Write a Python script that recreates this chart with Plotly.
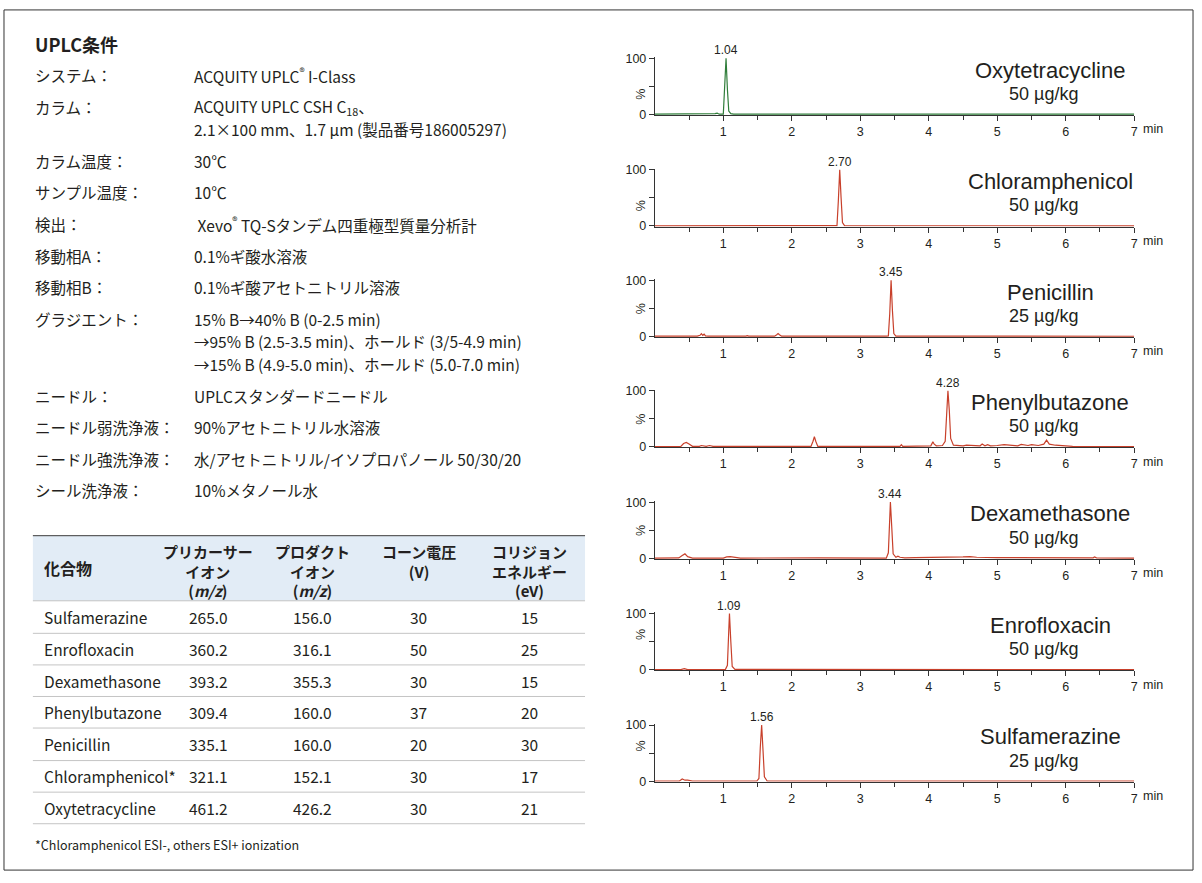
import plotly.graph_objects as go

W, H = 1202, 883

# ---------------- data ----------------
cond_labels = ["システム：", "カラム：", "カラム温度：", "サンプル温度：", "検出：", "移動相A：",
               "移動相B：", "グラジエント：", "ニードル：", "ニードル弱洗浄液：", "ニードル強洗浄液：", "シール洗浄液："]
cond_values = [
    ["ACQUITY UPLC<sup>®</sup> I-Class"],
    ["ACQUITY UPLC CSH C<sub>18</sub>、", "2.1×100 mm、1.7 µm (製品番号186005297)"],
    ["30℃"],
    ["10℃"],
    [" Xevo<sup>®</sup> TQ-Sタンデム四重極型質量分析計"],
    ["0.1%ギ酸水溶液"],
    ["0.1%ギ酸アセトニトリル溶液"],
    ["15% B→40% B (0-2.5 min)", "→95% B (2.5-3.5 min)、ホールド (3/5-4.9 min)",
     "→15% B (4.9-5.0 min)、ホールド (5.0-7.0 min)"],
    ["UPLCスタンダードニードル"],
    ["90%アセトニトリル水溶液"],
    ["水/アセトニトリル/イソプロパノール 50/30/20"],
    ["10%メタノール水"],
]

table_headers = ["化合物", "プリカーサー<br>イオン<br>(<i>m/z</i>)", "プロダクト<br>イオン<br>(<i>m/z</i>)",
                 "コーン電圧<br>(V)", "コリジョン<br>エネルギー<br>(eV)"]
compounds = ["Sulfamerazine", "Enrofloxacin", "Dexamethasone", "Phenylbutazone",
             "Penicillin", "Chloramphenicol*", "Oxytetracycline"]
precursor_ion = [265.0, 360.2, 393.2, 309.4, 335.1, 321.1, 461.2]
product_ion = [156.0, 316.1, 355.3, 160.0, 160.0, 152.1, 426.2]
cone_voltage = [30, 50, 30, 37, 20, 30, 30]
collision_energy = [15, 25, 15, 20, 30, 17, 21]
footnote = "*Chloramphenicol ESI-, others ESI+ ionization"

# chromatograms (top to bottom)
chrom_names = ["Oxytetracycline", "Chloramphenicol", "Penicillin", "Phenylbutazone",
               "Dexamethasone", "Enrofloxacin", "Sulfamerazine"]
chrom_conc = ["50 µg/kg", "50 µg/kg", "25 µg/kg", "50 µg/kg", "50 µg/kg", "50 µg/kg", "25 µg/kg"]
retention_times = [1.04, 2.70, 3.45, 4.28, 3.44, 1.09, 1.56]

oxy_t = [0, 0.30, 0.85, 0.88, 0.91, 0.94, 1.00, 1.02, 1.04, 1.06, 1.08, 1.11, 1.15, 7.0]
oxy_i = [0.5, 0.5, 0.5, 1.5, 2.5, 0.5, 0.5, 40, 100, 45, 6, 1.5, 0.5, 0.5]

chl_t = [0, 2.62, 2.66, 2.68, 2.70, 2.72, 2.74, 2.77, 7.0]
chl_i = [0.3, 0.3, 0.5, 45, 100, 50, 6, 0.5, 0.3]

pen_t = [0, 0.62, 0.66, 0.68, 0.70, 0.72, 0.74, 0.78, 1.33, 1.35, 1.37, 1.75, 1.78, 1.80, 1.82, 1.85,
         3.38, 3.41, 3.43, 3.45, 3.47, 3.49, 3.52, 4.53, 4.55, 4.57, 7.0]
pen_i = [0.5, 0.5, 2, 5, 2, 4, 1, 0.5, 0.5, 1.5, 0.5, 0.5, 3, 5, 3, 0.5,
         0.5, 1, 40, 100, 45, 5, 0.5, 0.5, 1.5, 0.5, 0.3]

phe_t = [0, 0.38, 0.42, 0.46, 0.50, 0.55, 0.65, 0.68, 0.75, 0.80, 0.85, 0.90, 1.20, 1.50, 2.00,
         2.28, 2.31, 2.33, 2.35, 2.38, 2.60, 2.90, 3.20, 3.58, 3.60, 3.62, 3.90, 4.03, 4.06, 4.08,
         4.11, 4.20, 4.24, 4.26, 4.28, 4.30, 4.32, 4.36, 4.50, 4.55, 4.75, 4.78, 4.82, 4.86, 4.90,
         5.00, 5.10, 5.30, 5.35, 5.45, 5.50, 5.60, 5.68, 5.72, 5.76, 5.85, 5.95, 6.10, 7.0]
phe_i = [0.5, 1, 6, 8, 5, 1, 1, 2.5, 1, 2.5, 1, 1, 0.5, 0.8, 0.5,
         1, 10, 18, 10, 1, 1, 1.5, 1, 1, 4, 1, 1.5, 2, 9, 5,
         2, 2.5, 10, 60, 100, 65, 15, 3, 2, 3, 2, 5, 2, 4, 2,
         2.5, 4, 2, 4.5, 2.5, 4, 2.5, 5, 12, 5, 3, 2, 1, 0.5]

dex_t = [0, 0.35, 0.40, 0.44, 0.48, 0.55, 1.00, 1.05, 1.10, 1.15, 1.20, 1.25, 2.40, 3.38, 3.41,
         3.43, 3.44, 3.46, 3.48, 3.52, 3.55, 3.58, 3.65, 3.80, 4.30, 4.50, 4.60, 4.70, 5.00, 5.30,
         6.40, 6.42, 6.45, 7.0]
dex_i = [0.5, 0.8, 5, 8, 3, 0.5, 0.5, 2.5, 3, 2.5, 2, 0.5, 1, 0.5, 10,
         60, 100, 55, 8, 2, 4, 2, 1, 1.5, 1.5, 2.5, 3, 2, 1.5, 1.5,
         1, 2.5, 1, 0.5]

enr_t = [0, 0.38, 0.43, 0.48, 1.03, 1.06, 1.08, 1.09, 1.11, 1.13, 1.17, 3.80, 4.50, 5.00, 5.50, 5.60, 7.0]
enr_i = [0.5, 0.5, 2, 0.5, 0.5, 8, 70, 100, 50, 6, 0.8, 0.5, 1.2, 1.5, 1.2, 0.5, 0.5]

sul_t = [0, 0.36, 0.40, 0.44, 0.48, 0.55, 1.49, 1.52, 1.54, 1.56, 1.58, 1.60, 1.64, 5.68, 5.72, 5.76, 7.0]
sul_i = [0.5, 0.5, 4, 2, 2, 0.5, 0.5, 5, 60, 100, 55, 8, 0.5, 0.5, 1.5, 0.5, 0.5]

chrom_times = [oxy_t, chl_t, pen_t, phe_t, dex_t, enr_t, sul_t]
chrom_intens = [oxy_i, chl_i, pen_i, phe_i, dex_i, enr_i, sul_i]
chrom_colors = ["#2f7d3a", "#c8402b", "#c8402b", "#c8402b", "#c8402b", "#c8402b", "#c8402b"]

x_tick_vals = [1, 2, 3, 4, 5, 6, 7]
x_tick_text = ["1", "2", "3", "4", "5", "6", "7"]
x_minor_vals = [0.5, 1.5, 2.5, 3.5, 4.5, 5.5, 6.5]
y_tick_vals = [0, 100]
y_tick_text = ["0", "100"]

# ---------------- helpers ----------------
def px(x):
    return x / W

def py(y):
    return 1 - y / H

TXT = "#231f20"
JP = "Noto Sans CJK JP"
AR = "Liberation Sans, Arial, sans-serif"

fig = go.Figure()
annotations = []
shapes = []

# ---------------- chromatograms ----------------
X0, X7 = 657, 1138
panel_tops = [54, 167, 279, 391, 504, 617, 730]
PH = 57.0
k_px = PH / 100.0
layout_axes = {}
for k in range(7):
    top = panel_tops[k]
    bot = top + PH
    xa = "xaxis" if k == 0 else f"xaxis{k+1}"
    ya = "yaxis" if k == 0 else f"yaxis{k+1}"
    xr = "x" if k == 0 else f"x{k+1}"
    yr = "y" if k == 0 else f"y{k+1}"
    fig.add_trace(go.Scatter(x=chrom_times[k], y=chrom_intens[k], mode="lines",
                             line=dict(color=chrom_colors[k], width=1.2),
                             xaxis=xr, yaxis=yr, showlegend=False, hoverinfo="skip"))
    dom_bot = bot + 1 * k_px
    dom_top = bot - 102 * k_px
    layout_axes[xa] = dict(domain=[px(X0), px(X7)], range=[0, 7], anchor=yr,
                           showline=True, linecolor="#333", linewidth=1,
                           ticks="outside", ticklen=5, tickcolor="#333",
                           tickvals=x_tick_vals, ticktext=x_tick_text,
                           minor=dict(tickvals=x_minor_vals, ticks="outside", ticklen=4,
                                      tickcolor="#333", showgrid=False),
                           tickfont=dict(family=AR, size=12.5, color=TXT),
                           showgrid=False, zeroline=False, fixedrange=True)
    layout_axes[ya] = dict(domain=[py(dom_bot), py(dom_top)], range=[-1, 102], anchor=xr,
                           showline=True, linecolor="#333", linewidth=1,
                           ticks="outside", ticklen=5, tickcolor="#333",
                           tickvals=y_tick_vals, ticktext=y_tick_text,
                           minor=dict(tickvals=[50], ticks="outside", ticklen=5,
                                      tickcolor="#333", showgrid=False),
                           tickfont=dict(family=AR, size=12.5, color=TXT),
                           showgrid=False, zeroline=False, fixedrange=True)
    # % label
    annotations.append(dict(x=px(643), y=py(bot - PH / 2), xref="paper", yref="paper",
                            text="%", textangle=-90, showarrow=False,
                            font=dict(family=AR, size=12.5, color=TXT)))
    # min
    annotations.append(dict(x=px(1145), y=py(bot + 15), xref="paper", yref="paper",
                            text="min", showarrow=False, xanchor="left", yanchor="middle",
                            font=dict(family=AR, size=12.5, color=TXT)))
    # peak label
    annotations.append(dict(x=retention_times[k], y=100, xref=xr, yref=yr,
                            text=f"{retention_times[k]:.2f}", showarrow=False,
                            yanchor="bottom", yshift=-1,
                            font=dict(family=AR, size=12, color=TXT)))
    # name & concentration
    annotations.append(dict(x=px(1054), y=py(top + 12), xref="paper", yref="paper",
                            text=chrom_names[k], showarrow=False, xanchor="center", yanchor="middle",
                            font=dict(family=AR, size=22, color=TXT)))
    annotations.append(dict(x=px(1047), y=py(top + 36), xref="paper", yref="paper",
                            text=chrom_conc[k], showarrow=False, xanchor="center", yanchor="middle",
                            font=dict(family=AR, size=18, color=TXT)))

# ---------------- conditions text ----------------
annotations.append(dict(x=px(33), y=py(40), xref="paper", yref="paper", text="<b>UPLC条件</b>",
                        showarrow=False, xanchor="left", yanchor="middle",
                        font=dict(family=JP, size=18, color=TXT)))
row_y = [71, 103, 158, 190, 222, 254, 286, 318, 396, 428, 460, 492]
for lab, vals, y in zip(cond_labels, cond_values, row_y):
    annotations.append(dict(x=px(33), y=py(y), xref="paper", yref="paper", text=lab,
                            showarrow=False, xanchor="left", yanchor="middle",
                            font=dict(family=JP, size=15.5, color=TXT)))
    for j, v in enumerate(vals):
        annotations.append(dict(x=px(193), y=py(y + 23 * j), xref="paper", yref="paper", text=v,
                                showarrow=False, xanchor="left", yanchor="middle",
                                font=dict(family=JP, size=15.5, color=TXT)))

# ---------------- table ----------------
TL, TR = 33, 587
shapes.append(dict(type="rect", xref="paper", yref="paper", x0=px(TL), x1=px(TR), y0=py(604), y1=py(538),
                   fillcolor="#e2ecf6", line=dict(width=0), layer="below"))
shapes.append(dict(type="line", xref="paper", yref="paper", x0=px(TL), x1=px(TR), y0=py(538), y1=py(538),
                   line=dict(color="#3a3a3a", width=1)))
row_lines = [604, 637, 669, 701, 733, 766, 798, 830]
for yl in row_lines:
    shapes.append(dict(type="line", xref="paper", yref="paper", x0=px(TL), x1=px(TR), y0=py(yl), y1=py(yl),
                       line=dict(color="#c4c4c4", width=1)))
col_x = [42, 209, 314, 420, 531]
annotations.append(dict(x=px(col_x[0]), y=py(571), xref="paper", yref="paper",
                        text=f"<b>{table_headers[0]}</b>", showarrow=False, xanchor="left", yanchor="middle",
                        font=dict(family=JP, size=16, color=TXT)))
for c in range(1, 5):
    annotations.append(dict(x=px(col_x[c]), y=py(541), xref="paper", yref="paper",
                            text=f"<b>{table_headers[c]}</b>", showarrow=False, xanchor="center", yanchor="top",
                            align="center", font=dict(family=JP, size=15, color=TXT)))
table_row_y = [620, 653, 685, 717, 749, 782, 814]
for r in range(7):
    yy = py(table_row_y[r])
    cells = [compounds[r], f"{precursor_ion[r]:.1f}", f"{product_ion[r]:.1f}",
             str(cone_voltage[r]), str(collision_energy[r])]
    for c in range(5):
        annotations.append(dict(x=px(col_x[c]), y=yy, xref="paper", yref="paper", text=cells[c],
                                showarrow=False, xanchor="left" if c == 0 else "center", yanchor="middle",
                                font=dict(family=JP, size=15.5, color=TXT)))
annotations.append(dict(x=px(33), y=py(851), xref="paper", yref="paper", text=footnote,
                        showarrow=False, xanchor="left", yanchor="middle",
                        font=dict(family=JP, size=12.5, color=TXT)))

# ---------------- border ----------------
shapes.append(dict(type="rect", xref="paper", yref="paper", x0=px(4), x1=px(1197), y0=py(877), y1=py(5),
                   line=dict(color="#333", width=1), fillcolor="rgba(0,0,0,0)"))

fig.update_layout(width=W, height=H, margin=dict(l=0, r=0, t=0, b=0),
                  paper_bgcolor="white", plot_bgcolor="rgba(0,0,0,0)",
                  annotations=annotations, shapes=shapes, **layout_axes)

fig.write_html("out.html", config={"displayModeBar": False},
               post_script=("document.documentElement.style.margin='0';"
                            "document.documentElement.style.overflow='hidden';"
                            "document.documentElement.style.height='883px';"
                            "document.body.style.margin='0';"
                            "document.body.style.overflow='hidden';"
                            "document.body.style.height='883px';"))
